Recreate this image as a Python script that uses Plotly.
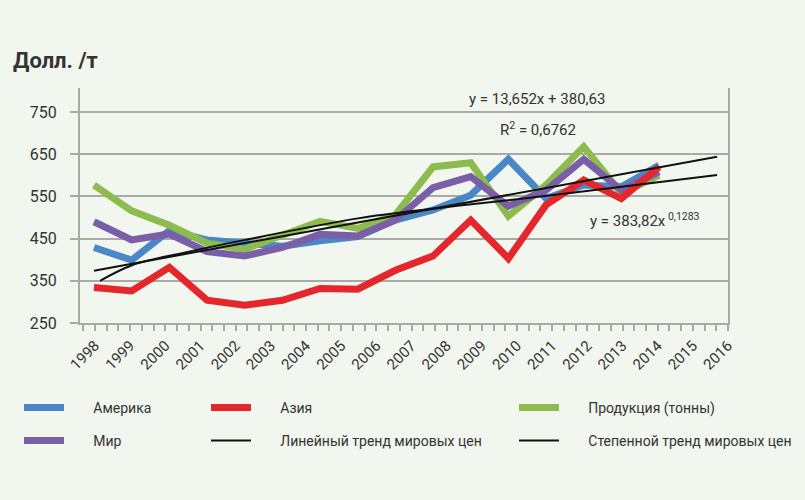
import plotly.graph_objects as go

# ---- data ----
data_years = list(range(1998, 2014))
america = [429, 399, 469, 447, 439, 432, 445, 455, 494, 518, 553, 638, 545, 577, 573, 624]
asia    = [334, 326, 382, 304, 292, 304, 332, 330, 375, 409, 494, 403, 530, 589, 545, 620]
product = [577, 516, 482, 439, 425, 458, 491, 474, 506, 620, 630, 503, 577, 668, 557, 600]
world   = [490, 447, 461, 419, 409, 429, 460, 456, 494, 571, 597, 527, 565, 638, 565, 608]

lin_trend_x = [1998.0, 2014.54]
lin_trend_y = [374, 644]
pow_trend_x = [1998.16, 1999.01, 2000.42, 2002.01, 2005.01, 2007.0, 2009.0, 2012.0, 2014.54]
pow_trend_y = [350, 387, 417, 447, 498, 521, 541, 573, 601]

axis_years = list(range(1998, 2017))
y_ticks = [250, 350, 450, 550, 650, 750]

FONT = "Roboto, Liberation Sans Narrow, sans-serif"
BG = "#f1f7ee"
GRID = "#a9aaa8"
TXT = "#333333"
PAD = "\u2003\u2002\u2009"

fig = go.Figure()

# invisible carrier so the year-label axis (x) gets drawn
fig.add_trace(go.Scatter(x=axis_years, y=[None] * len(axis_years), mode="lines",
                         showlegend=False, hoverinfo="skip"))

def line_trace(name, y, color, legend, width=7):
    fig.add_trace(go.Scatter(
        x=data_years, y=y, mode="lines", name=PAD + name, xaxis="x2",
        line=dict(color=color, width=width), legend=legend))

line_trace("Америка", america, "#4a87c7", "legend")
line_trace("Продукция (тонны)", product, "#8dbb4e", "legend3")
line_trace("Мир", world, "#7b5ea8", "legend4")
line_trace("Азия", asia, "#e5262c", "legend2")

fig.add_trace(go.Scatter(
    x=lin_trend_x, y=lin_trend_y, mode="lines", name=PAD + "Линейный тренд мировых цен",
    xaxis="x2", line=dict(color="#111111", width=2), legend="legend5"))
fig.add_trace(go.Scatter(
    x=pow_trend_x, y=pow_trend_y, mode="lines", name=PAD + "Степенной тренд мировых цен",
    xaxis="x2", line=dict(color="#111111", width=2, shape="spline", smoothing=1.0),
    legend="legend6"))

legend_common = dict(
    orientation="h", xref="container", yref="container", yanchor="top",
    xanchor="left", bgcolor="rgba(0,0,0,0)", borderwidth=0,
    font=dict(family=FONT, size=14, color=TXT), itemwidth=40)

ROW1 = 1 - 392 / 500
ROW2 = 1 - 425 / 500
COL = [19 / 805, 206 / 805, 514 / 805]

fig.update_layout(
    width=805, height=500,
    margin=dict(l=80, r=77, t=88, b=177),
    paper_bgcolor=BG, plot_bgcolor=BG,
    font=dict(family=FONT, color=TXT),
    title=dict(text="<b>Долл. /т</b>", x=13/805, xanchor="left",
               xref="container", yref="container", y=1 - 60/500, yanchor="middle",
               font=dict(family=FONT, size=22, color=TXT)),
    xaxis=dict(
        range=[1997.573, 2016.0], tickmode="linear", tick0=1998, dtick=1,
        tickangle=-45,
        tickfont=dict(family=FONT, size=15, color=TXT),
        showgrid=False, zeroline=False, showline=True, linecolor=GRID, linewidth=2,
        ticks="outside", ticklen=6, tickcolor=GRID, tickwidth=2,
        minor=dict(dtick=1/3, tick0=1998, ticks="outside", ticklen=6,
                   tickcolor=GRID, tickwidth=2, showgrid=False),
    ),
    xaxis2=dict(range=[1997.628, 2014.83], overlaying="x", anchor="y", visible=False),
    yaxis=dict(
        range=[250, 807], tickvals=y_ticks,
        tickfont=dict(family=FONT, size=16, color=TXT),
        showgrid=True, gridcolor=GRID, gridwidth=2, zeroline=False,
        showline=True, mirror=True, linecolor=GRID, linewidth=2,
        ticks="outside", ticklen=8, tickcolor=GRID, tickwidth=2,
        ticklabelstandoff=10,
    ),
    legend=dict(x=COL[0], y=ROW1, **legend_common),
    legend2=dict(x=COL[1], y=ROW1, **legend_common),
    legend3=dict(x=COL[2], y=ROW1, **legend_common),
    legend4=dict(x=COL[0], y=ROW2, **legend_common),
    legend5=dict(x=COL[1], y=ROW2, **legend_common),
    legend6=dict(x=COL[2], y=ROW2, **legend_common),
    annotations=[
        dict(text="y = 13,652x + 380,63", xref="paper", yref="paper",
             x=(537 - 80) / 648, y=(323 - 99) / 235, xanchor="center",
             yanchor="middle", showarrow=False,
             font=dict(family=FONT, size=15, color=TXT)),
        dict(text="R<sup>2</sup> = 0,6762", xref="paper", yref="paper",
             x=(538 - 80) / 648, y=(323 - 129) / 235, xanchor="center",
             yanchor="middle", showarrow=False,
             font=dict(family=FONT, size=15, color=TXT)),
        dict(text="y = 383,82x<sup> 0,1283</sup>", xref="paper", yref="paper",
             x=(588 - 80) / 648, xanchor="left", y=(323 - 220) / 235,
             yanchor="middle", showarrow=False,
             font=dict(family=FONT, size=15, color=TXT)),
    ],
    showlegend=True,
)

fig.write_html(
    "out.html",
    config={"displayModeBar": False},
    post_script="document.body.style.margin='0';document.body.style.background='%s';" % BG,
)
